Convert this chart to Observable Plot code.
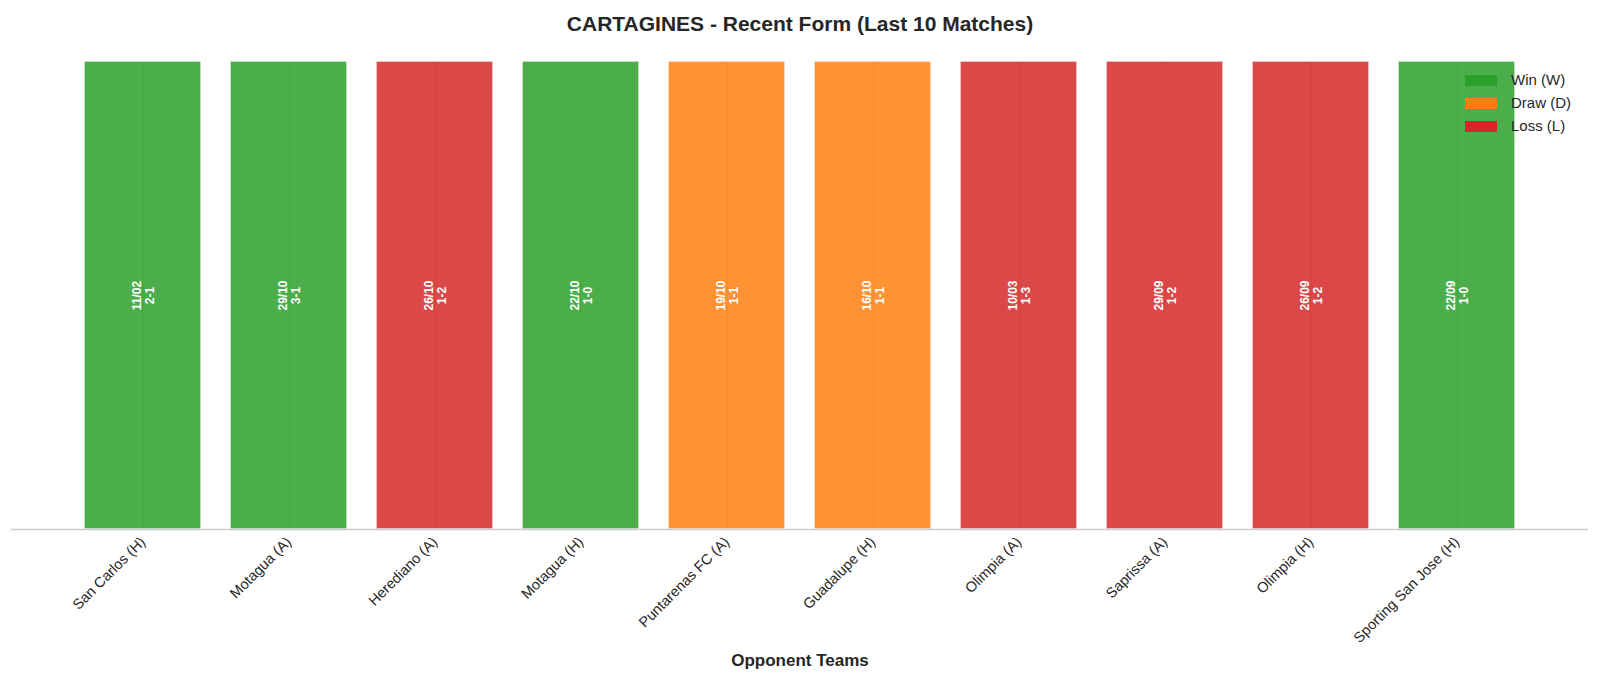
<!DOCTYPE html>
<html>
<head>
<meta charset="utf-8">
<script src="https://cdn.jsdelivr.net/npm/d3@7"></script>
<script src="https://cdn.jsdelivr.net/npm/@observablehq/plot@0.6"></script>
<style>
  html, body { margin: 0; padding: 0; background: #fff; }
  #wrap { position: relative; width: 1600px; height: 679px; font-family: "Liberation Sans", Arial, sans-serif; color: #262626; }
  #title { height: 46px; line-height: 48px; text-align: center; font-size: 21px; font-weight: bold; color: #262626; }
  #legend { position: absolute; left: 1465px; top: 74px; font-size: 15px; color: #262626; }
  .row { position: relative; height: 23px; }
  .sw { position: absolute; left: 0; top: 1px; width: 32px; height: 11px; }
  .lb { position: absolute; left: 46px; top: -2px; line-height: 16px; white-space: nowrap; }
</style>
</head>
<body>
<div id="wrap">
  <div id="title">CARTAGINES - Recent Form (Last 10 Matches)</div>
  <div id="chart"></div>
  <div id="legend"></div>
</div>
<script>
const opponents = ["San Carlos (H)", "Motagua (A)", "Herediano (A)", "Motagua (H)", "Puntarenas FC (A)", "Guadalupe (H)", "Olimpia (A)", "Saprissa (A)", "Olimpia (H)", "Sporting San Jose (H)"];
const dates = ["11/02", "29/10", "26/10", "22/10", "19/10", "16/10", "10/03", "29/09", "26/09", "22/09"];
const scores = ["2-1", "3-1", "1-2", "1-0", "1-1", "1-1", "1-3", "1-2", "1-2", "1-0"];
const results = ["W", "W", "L", "W", "D", "D", "L", "L", "L", "W"];
const resultKeys = ["W", "D", "L"];
const resultNames = ["Win (W)", "Draw (D)", "Loss (L)"];
const resultColors = ["#2ca02c", "#ff7f0e", "#d62728"];

const rows = opponents.map((o, i) => ({i, opponent: o, date: dates[i], score: scores[i], result: results[i], value: 1}));
const idx = d3.range(opponents.length);

const chart = Plot.plot({
  width: 1600,
  height: 633,
  marginTop: 15,
  marginBottom: 150,
  marginLeft: 11,
  marginRight: 12,
  style: {fontFamily: '"Liberation Sans", Arial, sans-serif', fontSize: "14px", color: "#262626", background: "#fff"},
  x: {type: "band", domain: idx, paddingInner: 0.2, paddingOuter: 0.49, label: null},
  y: {domain: [0, 1], axis: null},
  color: {domain: resultKeys, range: resultColors},
  marks: [
    Plot.ruleX(idx, {x: d => d, y1: 0, y2: 1, stroke: "#cccccc", strokeWidth: 1}),
    Plot.barY(rows, {x: "i", y: "value", fill: "result", fillOpacity: 0.85, stroke: "white", strokeWidth: 1.5, strokeOpacity: 0.85}),
    Plot.text(rows, {x: "i", y: 0.5, text: d => d.date + "\n" + d.score, rotate: -90, fill: "white", fontWeight: "bold", fontSize: 12, lineHeight: 1.1}),
    Plot.ruleY([0], {stroke: "#cccccc", strokeWidth: 1.5}),
    Plot.axisX({
      tickFormat: i => opponents[i],
      tickRotate: -45,
      tickSize: 0,
      tickPadding: 10,
      fontSize: 14.5,
      fill: "#262626",
      label: "Opponent Teams",
      labelAnchor: "center",
      labelArrow: "none",
      labelOffset: 136
    })
  ]
});
document.getElementById("chart").appendChild(chart);

chart.querySelectorAll("g[aria-label='x-axis label'] text").forEach(t => {
  t.setAttribute("font-weight", "bold");
  t.setAttribute("font-size", "17");
});

const legend = d3.select("#legend");
resultKeys.forEach((k, j) => {
  const r = legend.append("div").attr("class", "row");
  r.append("div").attr("class", "sw").style("background", resultColors[j]);
  r.append("div").attr("class", "lb").text(resultNames[j]);
});
</script>
</body>
</html>
